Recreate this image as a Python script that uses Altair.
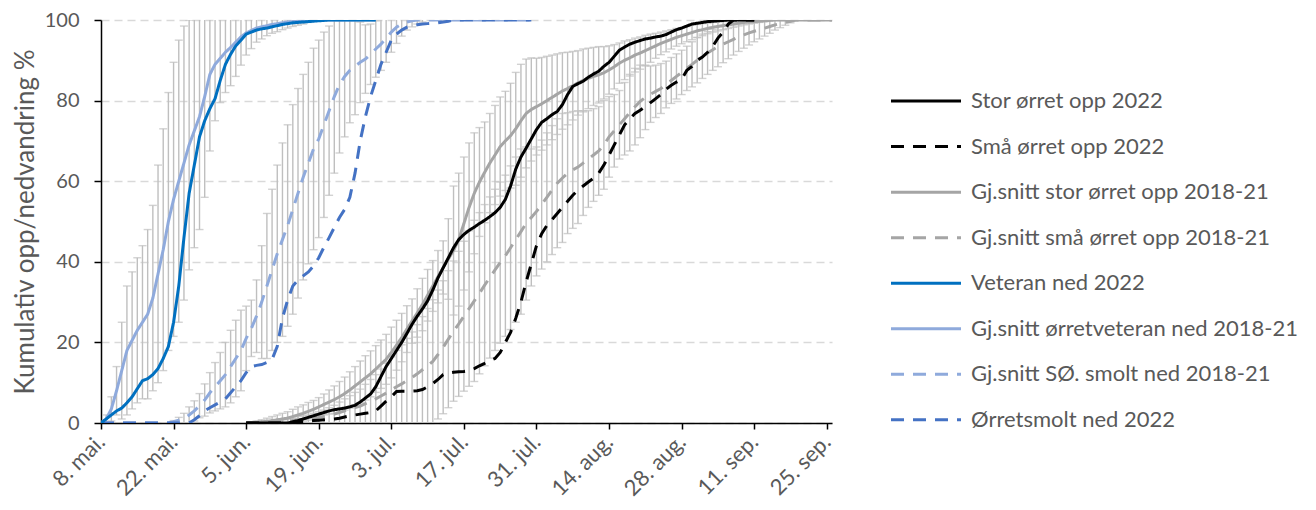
import altair as alt
import pandas as pd

# ---------------- data ----------------
# x = days after 8 May
tick_days = [0, 14, 28, 42, 56, 70, 84, 98, 112, 126, 140]
tick_labels = ["8. mai.", "22. mai.", "5. jun.", "19. jun.", "3. jul.", "17. jul.",
               "31. jul.", "14. aug.", "28. aug.", "11. sep.", "25. sep."]

names = ["Stor ørret opp 2022", "Små ørret opp 2022",
         "Gj.snitt stor ørret opp 2018-21", "Gj.snitt små ørret opp 2018-21",
         "Veteran ned 2022", "Gj.snitt ørretveteran ned 2018-21",
         "Gj.snitt SØ. smolt ned 2018-21", "Ørretsmolt ned 2022"]
colors = ["#000000", "#000000", "#A5A5A5", "#A5A5A5",
          "#0070C0", "#8FAADC", "#8FAADC", "#4472C4"]
dashes = [[1, 0], [13, 9], [1, 0], [13, 9], [1, 0], [1, 0], [13, 9], [13, 9]]

# veteran series, day 0..53
vet_start = 0
vet22 = [0, 1, 2, 3, 3.7, 5, 6.5, 8.5, 10.5, 11,
         12, 13.5, 16, 19, 25, 34, 46, 57, 64, 71,
         75, 78, 80.5, 85, 89, 91.5, 93.6, 95, 96.5, 97,
         97.5, 97.8, 98, 98.3, 98.6, 98.9, 99.1, 99.3, 99.4, 99.5,
         99.6, 99.7, 99.8, 99.9, 100, 100, 100, 100, 100, 100,
         100, 100, 100, 100]
vet_avg = [0, 1, 3.5, 8, 13, 18, 20.5, 23, 25, 27,
           31, 37, 43, 50, 55.5, 60, 64.5, 69, 72.5, 76,
           81, 86.5, 89, 90.5, 92, 93.2, 94.5, 95.8, 96.8, 97.4,
           98, 98.3, 98.6, 98.9, 99.1, 99.3, 99.5, 99.6, 99.7, 99.8,
           99.9, 100, 100, 100, 100, 100, 100, 100, 100, 100,
           100, 100, 100, 100]
vet_avg_sd = [0, 1, 3, 6, 12, 16, 17, 18, 19, 21,
              23, 27, 30, 32, 34, 35, 34, 31, 29, 28,
              25, 19, 14, 11, 10, 9.5, 8.5, 7, 5.5, 4.5,
              3.5, 3, 2.5, 2.2, 2, 1.7, 1.5, 1.2, 1, 0.8,
              0.5, 0, 0, 0, 0, 0, 0, 0, 0, 0,
              0, 0, 0, 0]

# smolt series, day 0..83
smolt_start = 0
smolt_avg = [0, 0, 0, 0, 0, 0, 0, 0, 0, 0,
             0, 0, 0, 0, 0.3, 0.7, 1.2, 2, 3, 4.3,
             5.7, 7.5, 9, 10.5, 12, 14, 16, 18, 21, 23.5,
             26.5, 30, 34, 38, 42, 45.5, 49, 53, 57, 61,
             64.5, 68, 70.5, 74, 77.5, 81, 84, 86, 87.5, 88.5,
             89.5, 90.3, 91.5, 92.8, 94, 95.5, 97, 98.2, 99, 99.5,
             99.8, 100, 100, 100, 100, 100, 100, 100, 100, 100,
             100, 100, 100, 100, 100, 100, 100, 100, 100, 100,
             100, 100, 100, 100]
smolt_avg_sd = [0, 0, 0, 0, 0, 0, 0, 0, 0, 0,
                0, 0, 0, 0, 0.3, 0.7, 1.2, 2, 2.5, 3,
                4, 5, 6, 7, 8, 9, 9.5, 10, 8, 7,
                9, 14, 18, 20, 22, 24, 25, 26, 26, 25.5,
                25, 25, 24.5, 23, 21, 19, 17, 15, 13, 12,
                10, 8.5, 7.5, 7, 6.5, 6, 5, 4, 3, 2,
                1.5, 1, 0.5, 0, 0, 0, 0, 0, 0, 0,
                0, 0, 0, 0, 0, 0, 0, 0, 0, 0,
                0, 0, 0, 0]
smolt22 = [0, 0, 0, 0, 0, 0, 0, 0, 0, 0,
           0, 0, 0, 0, 0, 0, 0, 0, 0.8, 1.8,
           3, 3.8, 4.5, 5.2, 6, 7.5, 9, 10.5, 12.5, 14,
           14.3, 14.5, 15, 15.8, 19, 26, 30.5, 34, 35.5, 36.5,
           37.5, 39, 41, 43.6, 46, 48.5, 51, 53, 56, 62,
           70, 76, 81, 85, 89, 92, 95, 96.5, 97.5, 98.2,
           98.6, 98.8, 99, 99.1, 99.2, 99.3, 99.5, 99.7, 100, 100,
           100, 100, 100, 100, 100, 100, 100, 100, 100, 100,
           100, 100, 100, 100]

# trout averages, day 28..141
trout_start = 28
stor_avg = [0, 0.1, 0.2, 0.3, 0.4, 0.6, 0.8, 1.0, 1.2, 1.6,
            2.0, 2.4, 2.9, 3.4, 4.0, 4.6, 5.2, 5.8, 6.5, 7.3,
            8.2, 9.2, 10.2, 11.2, 12.2, 13.4, 14.6, 15.8, 17.5, 19.3,
            21.2, 23.3, 25.3, 27.3, 29.4, 31.7, 34, 36.3, 38.6, 40.7,
            42.8, 45.5, 49.5, 53.5, 57, 59.8, 62.2, 64.5, 66.5, 68.6,
            70, 71.3, 73, 75, 76.8, 77.8, 78.5, 79.2, 80, 80.8,
            81.6, 82.4, 83, 83.7, 84.4, 85, 85.5, 86, 86.4, 86.9,
            87.6, 88.4, 89.3, 90, 90.6, 91.3, 91.8, 92.4, 93, 93.6,
            94.2, 94.7, 95.2, 95.7, 96.1, 96.5, 96.9, 97.3, 97.6, 97.9,
            98.2, 98.4, 98.6, 98.8, 99, 99.2, 99.4, 99.5, 99.6, 99.7,
            99.8, 99.9, 100, 100, 100, 100, 100, 100, 100, 100,
            100, 100, 100, 100]
stor_avg_sd = [0, 0.1, 0.3, 0.5, 0.8, 1, 1.2, 1.4, 1.6, 1.8,
               2, 2.1, 2.2, 2.2, 2.3, 2.6, 3, 3.4, 3.8, 4.1,
               4.5, 4.8, 5.2, 5.5, 5.7, 5.8, 6, 6.2, 6.3, 6.2,
               6, 5.8, 5.5, 6, 6.5, 6.4, 6.3, 6.5, 6.6, 10,
               16, 16.5, 16.5, 16, 15, 13.5, 12.5, 12.3, 12.3, 12.3,
               12.3, 13, 14, 14, 13.5, 12.8, 12, 11.5, 11, 10.5,
               10, 9.5, 9, 8.5, 8, 7.8, 7.5, 7.2, 7, 6.5,
               6, 5.5, 5, 4.8, 4.5, 4.2, 4, 3.8, 3.5, 3.1,
               2.8, 2.6, 2.4, 2.2, 2, 1.9, 1.8, 1.6, 1.5, 1.3,
               1.2, 1.1, 1, 0.9, 0.8, 0.7, 0.6, 0.5, 0.4, 0.3,
               0.2, 0.1, 0, 0, 0, 0, 0, 0, 0, 0,
               0, 0, 0, 0]
smaa_avg = [0, 0, 0, 0.1, 0.2, 0.2, 0.3, 0.4, 0.5, 0.6,
            0.8, 0.9, 1.0, 1.2, 1.4, 1.6, 1.9, 2.2, 2.6, 3,
            3.4, 3.8, 4.2, 4.8, 5.4, 6, 6.7, 7.4, 8.2, 9,
            9.7, 10.5, 11.3, 12.2, 13.2, 14.2, 15.3, 17, 18.8, 20.8,
            22.8, 24.6, 26.5, 28.4, 30.3, 32.2, 34.2, 36.1, 38, 39.8,
            41.5, 43.5, 45.5, 47.5, 49.5, 51, 52.5, 54.2, 56, 57.8,
            59.5, 60.8, 62, 62.8, 63.5, 64.5, 65.5, 66.5, 67.5, 69,
            71, 72.5, 74, 75.5, 77, 78.5, 79.8, 80.8, 81.6, 82.3,
            83, 84, 85, 86, 87, 88, 89, 90, 91, 91.8,
            92.6, 93.4, 94, 94.6, 95.2, 95.8, 96.3, 96.8, 97.2, 97.6,
            98, 98.4, 98.8, 99.1, 99.4, 99.7, 100, 100, 100, 100,
            100, 100, 100, 100]
smaa_avg_sd = [0, 0, 0, 0.1, 0.2, 0.2, 0.3, 0.4, 0.5, 0.6,
               0.8, 0.9, 1, 1.2, 1.4, 1.6, 1.9, 2.2, 2.6, 3,
               3.4, 3.8, 4.2, 4.8, 5.4, 6, 6.7, 7.4, 8.2, 9,
               9.7, 10.5, 11.3, 12.2, 13.2, 14.2, 15.3, 16, 16.5, 17,
               17.4, 18, 18.6, 19.3, 20, 20, 20, 20, 20, 20,
               20, 20.3, 20.5, 20.5, 19, 17, 16, 16, 16, 16,
               16, 16, 15, 14.5, 14, 13, 12, 11.5, 11, 11,
               10, 9, 8.5, 9, 9.5, 9.5, 9, 8, 7, 6.5,
               6.2, 5.8, 5.7, 5.6, 5.5, 5.5, 5.6, 5.6, 5.5, 5.3,
               5.1, 5, 4.6, 4.2, 3.9, 3.6, 3.3, 3, 2.6, 2.3,
               2, 1.7, 1.3, 1, 0.7, 0.4, 0, 0, 0, 0,
               0, 0, 0, 0]
# trout 2022, day 28..126
stor22 = [0, 0, 0, 0, 0, 0, 0, 0, 0, 0.3,
          0.6, 1, 1.4, 1.8, 2.2, 2.6, 3, 3.3, 3.5, 3.7,
          4, 4.4, 5.2, 6.2, 7.2, 9, 11.5, 14, 16, 18,
          20, 22.2, 24.5, 26.5, 28.3, 30.3, 33, 36, 38.5, 41,
          43.5, 45.5, 46.8, 47.8, 48.6, 49.5, 50.3, 51.2, 52.2, 53.5,
          55.5, 58.8, 63, 66, 68.2, 70.5, 72.8, 74.6, 75.5, 76.5,
          77.3, 79, 81.5, 83.5, 84.2, 84.8, 85.8, 86.6, 87.3, 88.5,
          89.5, 91, 92.5, 93.3, 94, 94.5, 94.9, 95.3, 95.5, 95.8,
          96, 96.4, 97, 97.6, 98, 98.5, 99, 99.2, 99.4, 99.6,
          99.7, 99.8, 99.9, 100, 100, 100, 100, 100, 100]
smaa22 = [0, 0, 0, 0, 0, 0, 0, 0, 0, 0,
          0.2, 0.4, 0.5, 0.6, 0.7, 0.8, 0.9, 1, 1.2, 1.5,
          1.8, 2, 2.2, 2.4, 2.6, 3, 4.2, 5.4, 6.5, 7.8,
          7.9, 7.9, 7.9, 8, 8.3, 9, 9.8, 10.8, 12, 12.4,
          12.6, 12.7, 12.8, 13, 13.5, 14.2, 14.8, 15.5, 16, 17.5,
          20, 22.5, 26, 30, 35, 39.5, 44, 47, 49, 50.5,
          52, 53.5, 55, 56.5, 57.8, 58.8, 59.8, 60.7, 62, 64,
          66.5, 69, 71.5, 74, 75.5, 76.8, 77.6, 78.5, 79.5, 80.5,
          81.5, 82.8, 83.8, 84.6, 85.3, 87.5, 88.5, 90, 90.8, 92,
          93.5, 95.5, 97, 99, 100, 100, 100, 100, 100]

# ---------------- build tables ----------------
def frame(name, start, vals, sd=None):
    d = pd.DataFrame({"day": list(range(start, start + len(vals))), "value": vals})
    d["series"] = name
    if sd is not None:
        assert len(sd) == len(vals)
        d["sd"] = sd
    return d

avg_frames = [
    frame(names[3], trout_start, smaa_avg, smaa_avg_sd),
    frame(names[2], trout_start, stor_avg, stor_avg_sd),
    frame(names[6], smolt_start, smolt_avg, smolt_avg_sd),
    frame(names[5], vet_start, vet_avg, vet_avg_sd),
]
y22_frames = [
    frame(names[1], trout_start, smaa22),
    frame(names[0], trout_start, stor22),
    frame(names[7], smolt_start, smolt22),
    frame(names[4], vet_start, vet22),
]
err = pd.concat(avg_frames, ignore_index=True)
err = err[err["sd"] > 0].copy()
err["lo"] = err["value"] - err["sd"]
err["hi"] = err["value"] + err["sd"]

TXT = "#595959"
FONT = "Lato"
label_expr = f"{tick_labels}[round(datum.value / 14)]"

x_enc = alt.X("day:Q",
              scale=alt.Scale(domain=[0, 141], nice=False, zero=False),
              axis=alt.Axis(values=tick_days, labelExpr=label_expr, title=None,
                            labelAngle=-45, labelAlign="right", labelBaseline="middle",
                            labelFontSize=22, labelColor=TXT, labelPadding=9,
                            tickSize=6, tickColor="black", tickWidth=1.5,
                            domainColor="black", domainWidth=1.5, grid=False,
                            labelOverlap=False))
y_axis = alt.Axis(values=[0, 20, 40, 60, 80, 100], title="Kumulativ opp/nedvandring %",
                  titleFontSize=26, titleFontWeight="normal", titleColor=TXT,
                  titlePadding=6, labelFontSize=20, labelColor=TXT, labelPadding=15,
                  tickSize=7, tickColor="black", tickWidth=1.5,
                  domainColor="black", domainWidth=1.5,
                  grid=True, gridDash=[8, 5], gridColor="#D9D9D9", gridWidth=1.3)
y_scale = alt.Scale(domain=[0, 100], nice=False)

ERR = "#BFBFBF"
rules = alt.Chart(err).mark_rule(color=ERR, strokeWidth=1.4, clip=True).encode(
    x=x_enc, y=alt.Y("lo:Q", scale=y_scale, axis=y_axis), y2="hi:Q")
caps_hi = alt.Chart(err).mark_tick(color=ERR, orient="horizontal", size=8,
                                   thickness=1.4, clip=True).encode(
    x=x_enc, y=alt.Y("hi:Q", scale=y_scale, axis=y_axis))
caps_lo = alt.Chart(err).mark_tick(color=ERR, orient="horizontal", size=8,
                                   thickness=1.4, clip=True).encode(
    x=x_enc, y=alt.Y("lo:Q", scale=y_scale, axis=y_axis))

layers = [rules, caps_hi, caps_lo]
for d in avg_frames + y22_frames:
    i = names.index(d["series"].iloc[0])
    layers.append(
        alt.Chart(d).mark_line(color=colors[i], strokeDash=dashes[i], strokeWidth=3,
                               clip=True, strokeCap="butt")
        .encode(x=x_enc, y=alt.Y("value:Q", scale=y_scale, axis=y_axis))
    )

main = alt.layer(*layers).properties(width=731, height=403)

# ---------------- legend panel ----------------
leg = pd.DataFrame({"series": names, "row": list(range(len(names)))})
leg_y = alt.Y("row:Q", scale=alt.Scale(domain=[-1.78, 7.07], reverse=True,
                                        nice=False, zero=False), axis=None)
leg_lines = alt.Chart(leg).mark_rule(strokeWidth=3, strokeCap="butt").encode(
    x=alt.value(0), x2=alt.value(70), y=leg_y,
    color=alt.Color("series:N", scale=alt.Scale(domain=names, range=colors), legend=None),
    strokeDash=alt.StrokeDash("series:N", scale=alt.Scale(domain=names, range=dashes),
                              legend=None))
leg_text = alt.Chart(leg).mark_text(align="left", baseline="middle", fontSize=22,
                                    color=TXT, font=FONT).encode(
    x=alt.value(80), y=leg_y, text="series:N")
legend = alt.layer(leg_lines, leg_text).properties(width=330, height=403)

chart = alt.hconcat(main, legend, spacing=54).properties(
    padding={"left": 4, "top": 2, "right": 0, "bottom": 0}
).configure(font=FONT).configure_view(stroke=None)

chart.save("out.html", embed_options={"renderer": "svg", "actions": False})
